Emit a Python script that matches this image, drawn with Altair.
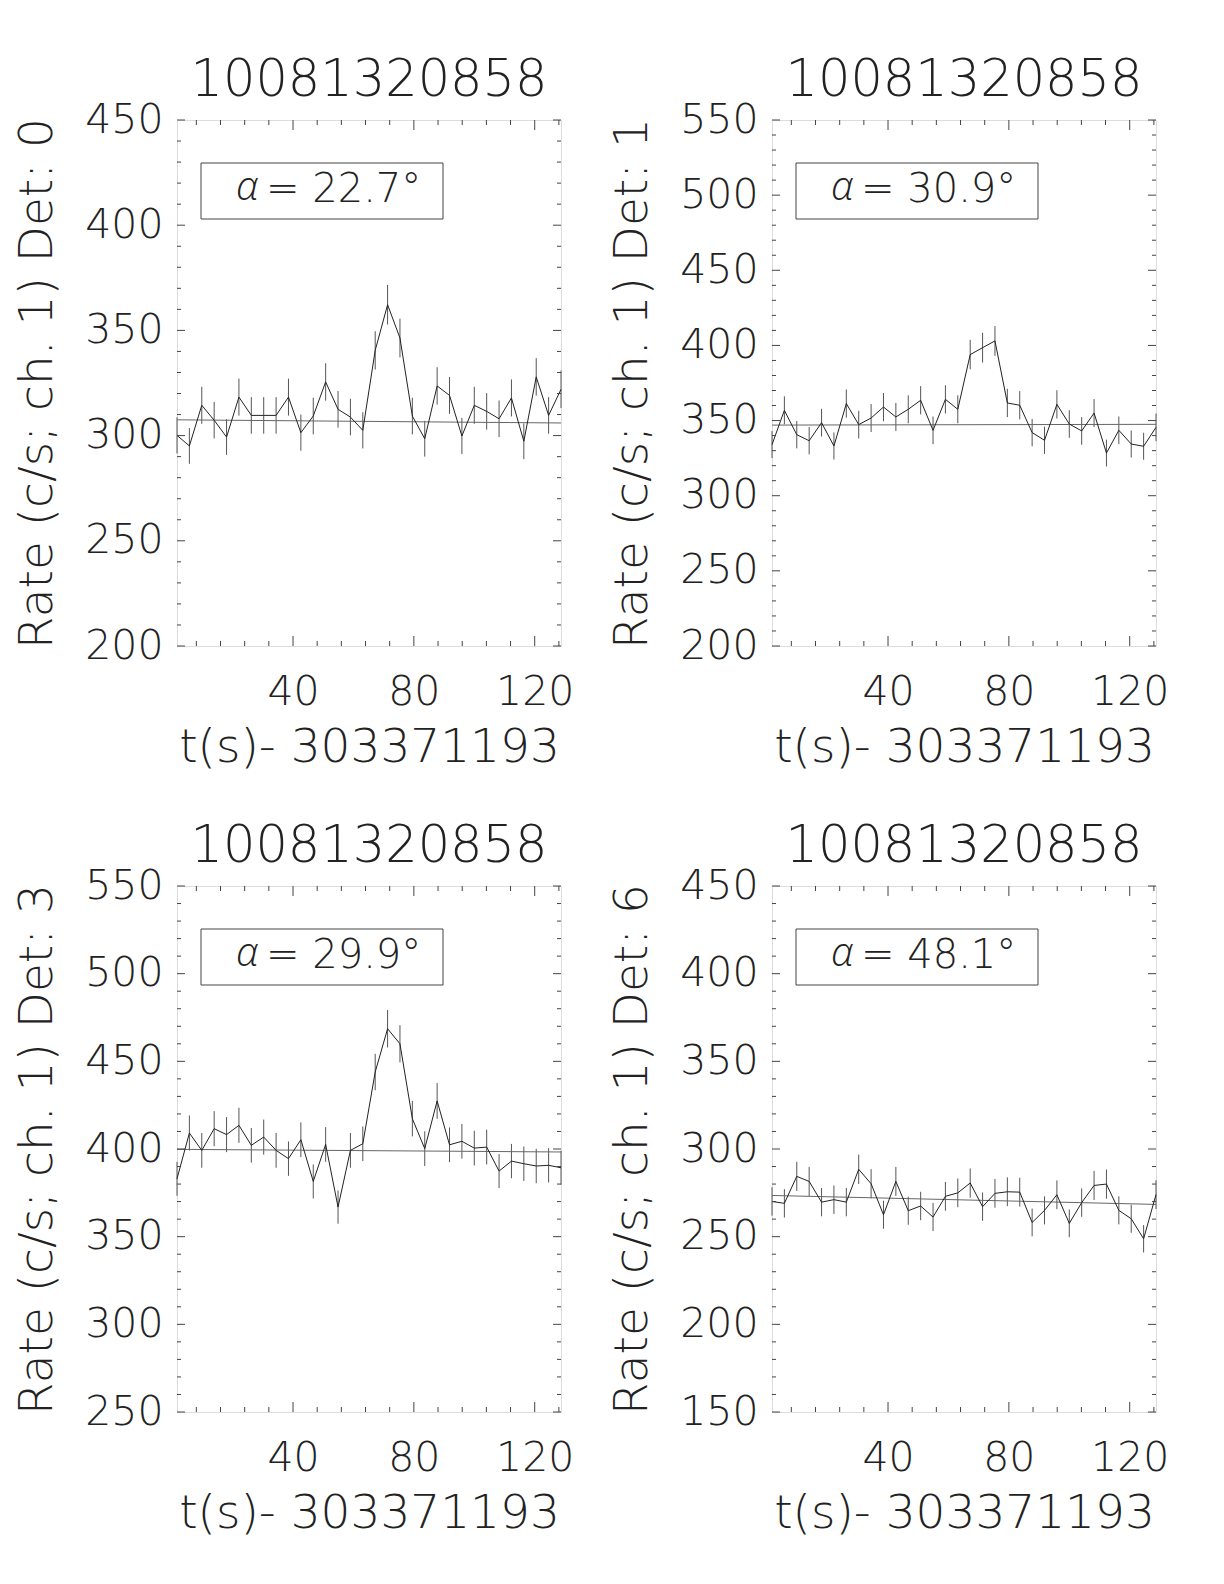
import altair as alt
import pandas as pd

# ---------------- data ----------------
run_id = "10081320858"
t_offset_label = "t(s)- 303371193"

times = [1.6, 5.7, 9.8, 13.9, 18.0, 22.1, 26.2, 30.3, 34.4, 38.5, 42.6, 46.7,
         50.8, 54.9, 59.0, 63.1, 67.2, 71.3, 75.4, 79.5, 83.6, 87.7, 91.8, 95.9,
         100.0, 104.1, 108.2, 112.3, 116.4, 120.5, 124.6, 128.7]

detectors = [0, 1, 3, 6]
alphas = ["22.7", "30.9", "29.9", "48.1"]

rate_det0 = [300.1, 295.1, 314.4, 307.3, 299.3, 318.3, 309.6, 309.6, 309.6, 318.3, 301.4, 309.3,
             325.5, 312.5, 308.8, 302.5, 340.5, 362.2, 346.4, 309.3, 298.5, 323.6, 319.1, 299.8,
             314.4, 311.5, 308.0, 317.9, 297.3, 327.9, 309.6, 322.0]
err_det0 = [8.6, 8.5, 8.8, 8.7, 8.5, 8.8, 8.7, 8.7, 8.7, 8.8, 8.6, 8.7,
            8.9, 8.7, 8.7, 8.6, 9.1, 9.4, 9.2, 8.7, 8.5, 8.9, 8.8, 8.6,
            8.8, 8.7, 8.7, 8.8, 8.5, 8.9, 8.7, 8.9]

rate_det1 = [334.0, 356.8, 340.6, 336.6, 348.6, 333.1, 361.3, 347.3, 351.7, 359.0, 352.4, 357.5,
             363.5, 343.5, 364.1, 357.5, 393.9, 398.5, 403.0, 361.7, 360.2, 342.0, 336.9, 360.8,
             347.7, 343.1, 355.0, 328.4, 343.5, 334.4, 332.9, 345.5]
err_det1 = [9.0, 9.3, 9.1, 9.1, 9.2, 9.0, 9.4, 9.2, 9.3, 9.4, 9.3, 9.3,
            9.4, 9.2, 9.4, 9.3, 9.8, 9.9, 9.9, 9.4, 9.4, 9.1, 9.1, 9.4,
            9.2, 9.2, 9.3, 8.9, 9.2, 9.0, 9.0, 9.2]

rate_det3 = [383.0, 409.1, 399.2, 411.6, 408.2, 413.5, 402.1, 406.8, 399.2, 394.5, 405.3, 381.5,
             402.6, 366.9, 399.2, 403.0, 443.9, 468.6, 460.0, 417.3, 400.2, 427.4, 402.4, 404.4,
             400.5, 401.1, 387.4, 393.1, 391.6, 390.3, 390.7, 389.3]
err_det3 = [9.7, 10.0, 9.9, 10.0, 10.0, 10.0, 9.9, 10.0, 9.9, 9.8, 9.9, 9.7,
            9.9, 9.5, 9.9, 9.9, 10.4, 10.7, 10.6, 10.1, 9.9, 10.2, 9.9, 9.9,
            9.9, 9.9, 9.7, 9.8, 9.8, 9.8, 9.8, 9.7]

rate_det6 = [270.1, 269.0, 284.4, 281.5, 269.7, 271.1, 269.7, 288.4, 280.2, 262.5, 281.5, 264.8,
             267.5, 261.2, 273.0, 275.0, 280.6, 267.1, 274.7, 275.6, 275.4, 258.1, 265.0, 273.9,
             257.6, 269.4, 279.2, 280.0, 265.0, 260.2, 248.8, 274.0]
err_det6 = [8.1, 8.1, 8.3, 8.3, 8.1, 8.1, 8.1, 8.4, 8.3, 8.0, 8.3, 8.0,
            8.1, 8.0, 8.2, 8.2, 8.3, 8.1, 8.2, 8.2, 8.2, 7.9, 8.0, 8.2,
            7.9, 8.1, 8.3, 8.3, 8.0, 8.0, 7.8, 8.2]

# background fit (start, end)
bkg_times = [1.6, 128.7]
bkg_det0 = [307.5, 306.0]
bkg_det1 = [347.0, 347.5]
bkg_det3 = [399.8, 398.3]
bkg_det6 = [273.5, 268.4]

y_domains = [[200, 450], [200, 550], [250, 550], [150, 450]]
x_labels = [40, 80, 120]
x_minor = [8, 16, 24, 32, 48, 56, 64, 72, 88, 96, 104, 112, 128]

rates = [rate_det0, rate_det1, rate_det3, rate_det6]
errs = [err_det0, err_det1, err_det3, err_det6]
bkgs = [bkg_det0, bkg_det1, bkg_det3, bkg_det6]

# ---------------- style ----------------
W, H = 384, 526
FONT = "DejaVu Sans"
FW = 200
INK = "#222222"
X_DOMAIN = [1.6, 128.7]


def panel(i):
    det = detectors[i]
    ydom = y_domains[i]
    xs = alt.Scale(domain=X_DOMAIN, nice=False, zero=False)
    ys = alt.Scale(domain=ydom, nice=False, zero=False)

    df = pd.DataFrame({"t": times, "r": rates[i], "e": errs[i]})
    df["lo"] = df["r"] - df["e"]
    df["hi"] = df["r"] + df["e"]
    bk = pd.DataFrame({"t": bkg_times, "r": bkgs[i]})

    y_major = list(range(ydom[0], ydom[1] + 1, 50))
    y_minor = [v for v in range(ydom[0], ydom[1] + 1, 10) if v % 50 != 0]

    xaxis = alt.Axis(values=x_labels, ticks=False, tickSize=0, domain=False, grid=False,
                     labelFont=FONT, labelFontWeight=FW, labelFontSize=41, labelColor=INK,
                     labelPadding=26, title=t_offset_label, titleFont=FONT, titleFontWeight=FW,
                     titleFontSize=47, titleColor=INK, titlePadding=12)
    yaxis = alt.Axis(values=y_major, ticks=False, tickSize=0, domain=False, grid=False,
                     labelFont=FONT, labelFontWeight=FW, labelFontSize=41, labelColor=INK,
                     labelPadding=14, labelBaseline="middle",
                     title=f"Rate (c/s; ch. 1) Det: {det}", titleFont=FONT, titleFontWeight=FW,
                     titleFontSize=47, titleColor=INK, titlePadding=23)

    errbars = alt.Chart(df).mark_rule(color="#555555", strokeWidth=1).encode(
        x=alt.X("t:Q", scale=xs, axis=xaxis),
        y=alt.Y("lo:Q", scale=ys, axis=yaxis),
        y2="hi:Q",
    )
    line = alt.Chart(df).mark_line(color=INK, strokeWidth=1).encode(
        x=alt.X("t:Q", scale=xs, axis=xaxis), y=alt.Y("r:Q", scale=ys, axis=yaxis)
    )
    bline = alt.Chart(bk).mark_line(color="#666666", strokeWidth=1).encode(
        x=alt.X("t:Q", scale=xs, axis=xaxis), y=alt.Y("r:Q", scale=ys, axis=yaxis)
    )

    def xticks(vals, ln):
        d = pd.DataFrame({"v": vals})
        bot = alt.Chart(d).mark_rule(color="#444444").encode(
            x=alt.X("v:Q", scale=xs, axis=xaxis), y=alt.value(H), y2=alt.value(H - ln))
        top = alt.Chart(d).mark_rule(color="#444444").encode(
            x=alt.X("v:Q", scale=xs, axis=xaxis), y=alt.value(0), y2=alt.value(ln))
        return [bot, top]

    def yticks(vals, ln):
        d = pd.DataFrame({"v": vals})
        lft = alt.Chart(d).mark_rule(color="#444444").encode(
            y=alt.Y("v:Q", scale=ys, axis=yaxis), x=alt.value(0), x2=alt.value(ln))
        rgt = alt.Chart(d).mark_rule(color="#444444").encode(
            y=alt.Y("v:Q", scale=ys, axis=yaxis), x=alt.value(W - ln), x2=alt.value(W))
        return [lft, rgt]

    one = pd.DataFrame({"a": [0]})
    box = alt.Chart(one).mark_rect(fill=None, stroke="#444444", strokeWidth=1).encode(
        x=alt.value(24), x2=alt.value(266), y=alt.value(43), y2=alt.value(99))
    alpha_sym = alt.Chart(one).mark_text(
        font="Open Sans", fontWeight=300, fontStyle="italic", fontSize=40, color=INK,
        align="center", baseline="middle").encode(
        x=alt.value(70), y=alt.value(68), text=alt.value("α"))
    alpha_val = alt.Chart(one).mark_text(
        font=FONT, fontWeight=FW, fontSize=40, color=INK,
        align="left", baseline="middle").encode(
        x=alt.value(89), y=alt.value(70), text=alt.value(f"=  {alphas[i]}°"))

    layers = [errbars, bline, line]
    layers += xticks(x_labels, 10) + xticks(x_minor, 5)
    layers += yticks(y_major, 8) + yticks(y_minor, 4)
    layers += [box, alpha_sym, alpha_val]

    return alt.layer(*layers).properties(
        width=W, height=H,
        title=alt.TitleParams(run_id, font=FONT, fontWeight=FW, fontSize=51,
                              color=INK, offset=-8, anchor="middle"),
    )


top_row = alt.hconcat(panel(0), panel(1), spacing=33)
bot_row = alt.hconcat(panel(2), panel(3), spacing=33)
chart = alt.vconcat(top_row, bot_row, spacing=49).properties(
    padding={"left": 5, "top": 46, "right": 0, "bottom": 0}
).configure_view(stroke="#333333", strokeWidth=1).configure(background="white")

chart.save("out.html", embed_options={"renderer": "svg", "actions": False})
